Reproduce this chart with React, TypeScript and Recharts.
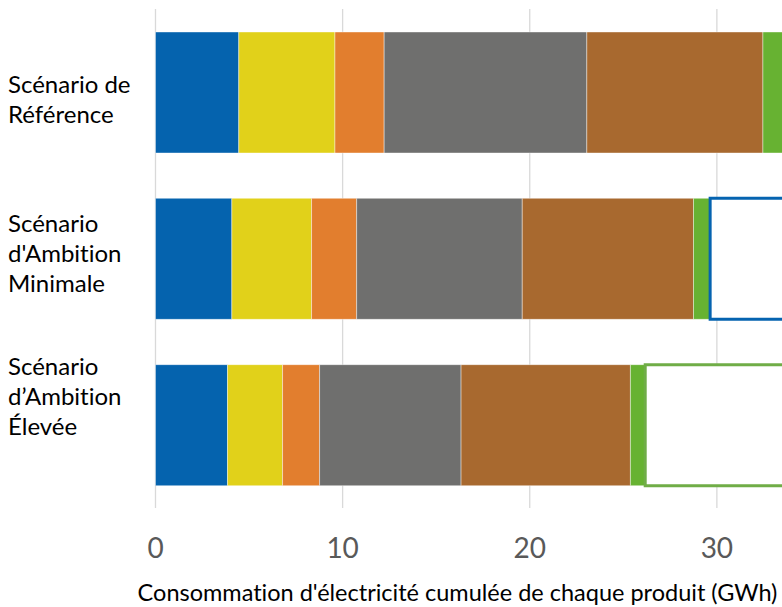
import React from "react"
import { Bar, BarChart, CartesianGrid, Cell, XAxis, YAxis } from "recharts"

// scénarios (lignes du graphique)
const categories = [
  "Scénario de\nRéférence",
  "Scénario\nd'Ambition\nMinimale",
  "Scénario\nd’Ambition\nÉlevée",
]

// consommation par segment (GWh)
const bleu = [4.45, 4.08, 3.85]
const jaune = [5.14, 4.26, 2.94]
const orange = [2.63, 2.41, 1.98]
const gris = [10.83, 8.85, 7.56]
const marron = [9.41, 9.15, 9.05]
const vert = [1.2, 0.89, 0.79]
// écart par rapport au scénario de référence (cadre vide)
const ecart = [0, 4.0, 7.5]

const xTicks = [0, 10, 20, 30]

const data = categories.map((name, i) => ({
  name,
  bleu: bleu[i],
  jaune: jaune[i],
  orange: orange[i],
  gris: gris[i],
  marron: marron[i],
  vert: vert[i],
  ecart: ecart[i],
}))

const ecartStroke = ["none", "#0563B0", "#70AD47"]
// léger décalage vertical des libellés, comme dans l'original
const labelShift = [8, -5, -28]

const FONT = "Lato, 'Noto Sans', sans-serif"
const noLig = { fontVariantLigatures: "none" as const }
const LINE = 30

function CategoryTick(props: any) {
  const { y, payload, index } = props
  const lines = String(payload.value).split("\n")
  const first = y - ((lines.length - 1) * LINE) / 2 + 8 + (labelShift[index] ?? 0)
  return (
    <text x={8} y={first} fill="#000000" fontSize={24} fontFamily={FONT} textAnchor="start" style={noLig}>
      {lines.map((l, i) => (
        <tspan key={i} x={8} y={first + i * LINE}>
          {l}
        </tspan>
      ))}
    </text>
  )
}

function ValueTick(props: any) {
  const { x, y, payload } = props
  return (
    <text x={x} y={y + 50} fill="#595959" fontSize={28} fontFamily={FONT} textAnchor="middle">
      {payload.value}
    </text>
  )
}

function AxisTitle() {
  return (
    <text x={457.5} y={601} fill="#000000" fontSize={23.5} fontFamily={FONT} textAnchor="middle" style={noLig}>
      Consommation d'électricité cumulée de chaque produit (GWh)
    </text>
  )
}

const sep = { stroke: "#ffffff", strokeOpacity: 0.55, strokeWidth: 0.75 }

export default function App() {
  return (
    <div
      style={{
        position: "absolute",
        left: 0,
        top: 0,
        width: 782,
        height: 607,
        overflow: "hidden",
        background: "#ffffff",
      }}
    >
      <BarChart
        width={904}
        height={607}
        data={data}
        layout="vertical"
        margin={{ top: 9, right: 0, left: 0, bottom: 0 }}
        barSize={121}
      >
        <CartesianGrid horizontal={false} stroke="#d9d9d9" strokeWidth={1.3} />
        <XAxis
          type="number"
          domain={[0, 40]}
          ticks={xTicks}
          axisLine={false}
          tickLine={false}
          tickSize={0}
          tickMargin={0}
          height={99}
          tick={<ValueTick />}
          label={<AxisTitle />}
        />
        <YAxis
          dataKey="name"
          type="category"
          width={155.5}
          axisLine={false}
          tickLine={false}
          tick={<CategoryTick />}
          interval={0}
        />
        <Bar dataKey="bleu" stackId="a" fill="#0563AE" {...sep} isAnimationActive={false} />
        <Bar dataKey="jaune" stackId="a" fill="#E1D11A" {...sep} isAnimationActive={false} />
        <Bar dataKey="orange" stackId="a" fill="#E27E2E" {...sep} isAnimationActive={false} />
        <Bar dataKey="gris" stackId="a" fill="#6F6F6E" {...sep} isAnimationActive={false} />
        <Bar dataKey="marron" stackId="a" fill="#A8692F" {...sep} isAnimationActive={false} />
        <Bar dataKey="vert" stackId="a" fill="#67B232" {...sep} isAnimationActive={false} />
        <Bar dataKey="ecart" stackId="a" fill="#ffffff" strokeWidth={3} isAnimationActive={false}>
          {data.map((_, i) => (
            <Cell key={i} stroke={ecartStroke[i]} />
          ))}
        </Bar>
      </BarChart>
    </div>
  )
}
